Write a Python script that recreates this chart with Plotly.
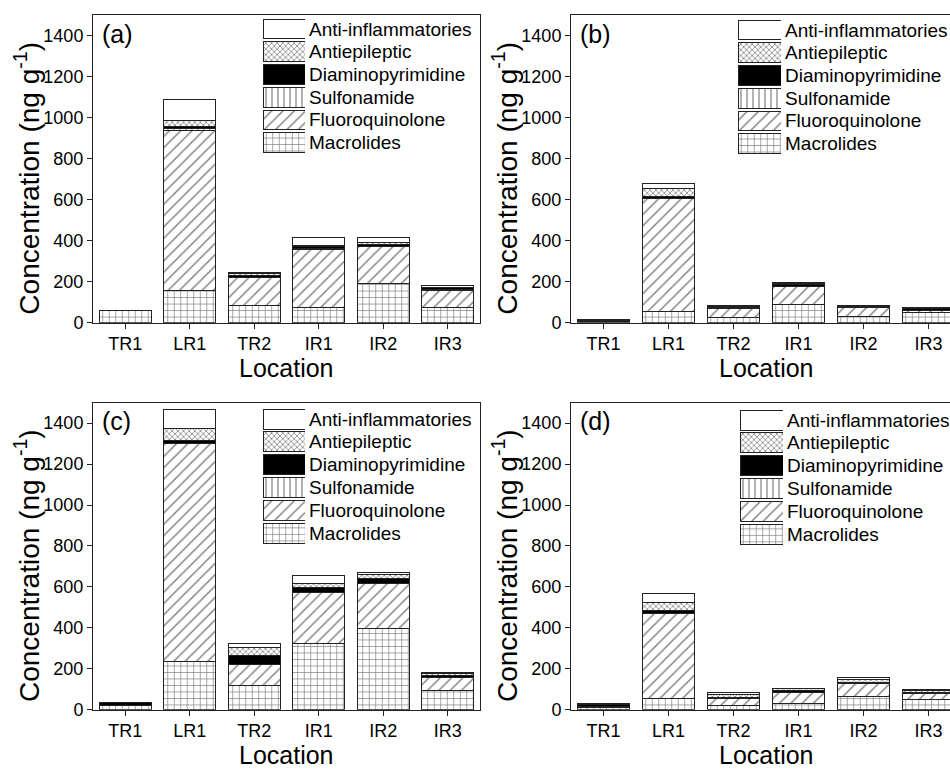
import plotly.graph_objects as go

W, H = 950, 770

locations = ["TR1", "LR1", "TR2", "IR1", "IR2", "IR3"]
classes = ["Macrolides", "Fluoroquinolone", "Sulfonamide",
           "Diaminopyrimidine", "Antiepileptic", "Anti-inflammatories"]
y_ticks = [0, 200, 400, 600, 800, 1000, 1200, 1400]

# Panel (a)
mac_a = [62, 155, 83, 72, 189, 72]
flu_a = [0, 781, 136, 286, 182, 85]
sul_a = [0, 8, 3, 2, 0, 3]
dia_a = [0, 10, 6, 11, 9, 10]
epi_a = [0, 30, 10, 3, 11, 4]
inf_a = [0, 105, 5, 42, 22, 6]

# Panel (b)
mac_b = [6, 56, 24, 88, 32, 50]
flu_b = [3, 547, 45, 88, 40, 11]
sul_b = [0, 0, 0, 2, 0, 0]
dia_b = [2, 10, 6, 10, 6, 6]
epi_b = [3, 40, 5, 5, 5, 3]
inf_b = [1, 24, 3, 4, 3, 2]

# Panel (c)
mac_c = [22, 233, 116, 321, 399, 92]
flu_c = [0, 1069, 105, 252, 218, 65]
sul_c = [0, 0, 0, 0, 0, 0]
dia_c = [11, 13, 44, 23, 24, 8]
epi_c = [2, 58, 40, 21, 20, 12]
inf_c = [0, 92, 16, 37, 11, 3]

# Panel (d)
mac_d = [12, 55, 19, 31, 63, 52]
flu_d = [2, 417, 36, 53, 65, 29]
sul_d = [0, 0, 0, 0, 0, 0]
dia_d = [10, 13, 5, 10, 3, 4]
epi_d = [5, 40, 13, 7, 17, 11]
inf_d = [2, 44, 11, 2, 8, 4]

panel_labels = ["(a)", "(b)", "(c)", "(d)"]
panels = [
    [mac_a, flu_a, sul_a, dia_a, epi_a, inf_a],
    [mac_b, flu_b, sul_b, dia_b, epi_b, inf_b],
    [mac_c, flu_c, sul_c, dia_c, epi_c, inf_c],
    [mac_d, flu_d, sul_d, dia_d, epi_d, inf_d],
]

FONT = "Arial, Liberation Sans, sans-serif"
LINE = "#222222"

styles = {
    "Macrolides": dict(color="white", pattern=dict(shape="+", size=6.5, solidity=0.2, fgcolor="black", bgcolor="white")),
    "Fluoroquinolone": dict(color="white", pattern=dict(shape="/", size=8, solidity=0.18, fgcolor="black", bgcolor="white")),
    "Sulfonamide": dict(color="white", pattern=dict(shape="|", size=6, solidity=0.2, fgcolor="black", bgcolor="white")),
    "Diaminopyrimidine": dict(color="black", pattern=dict(shape="")),
    "Antiepileptic": dict(color="white", pattern=dict(shape="x", size=4, solidity=0.35, fgcolor="black", bgcolor="white")),
    "Anti-inflammatories": dict(color="white", pattern=dict(shape="")),
}

# pixel geometry of panels: (left, right, top, bottom)
geo = [(93, 480, 15, 327), (571, 950, 15, 327), (93, 480, 408, 719), (571, 950, 408, 719)]
# legend swatch geometry: (left, right, top, bottom)
leg_geo = [(263, 305, 18, 156), (738, 781, 19, 157), (263, 305, 413, 552), (740, 783, 414, 553)]

def px_x(v):
    return v / W

def px_y(v):
    return 1 - v / H

fig = go.Figure()
layout = dict(
    width=W, height=H, margin=dict(l=0, r=0, t=0, b=0),
    paper_bgcolor="white", plot_bgcolor="white",
    barmode="stack", showlegend=False,
    font=dict(family=FONT, color="black", size=18),
)
annotations = []

for p, data in enumerate(panels):
    n = p + 1
    xa = "x" if n == 1 else f"x{n}"
    ya = "y" if n == 1 else f"y{n}"
    L, R, T, B = geo[p]
    cat_px = 64.5 if p in (0, 2) else 65.0
    xmax = -0.5 + (R - L) / cat_px
    for cls, vals in zip(classes, data):
        st = styles[cls]
        fig.add_trace(go.Bar(
            x=list(range(len(locations))), y=vals, name=cls, xaxis=xa, yaxis=ya,
            width=0.8,
            marker=dict(color=st["color"], pattern=st["pattern"], line=dict(color=LINE, width=1)),
        ))
    full = p in (0, 2)
    layout[f"xaxis{'' if n == 1 else n}"] = dict(
        domain=[px_x(L), px_x(R)], anchor=ya, range=[-0.5, xmax],
        tickvals=list(range(len(locations))), ticktext=locations,
        ticks="outside", ticklen=5, tickcolor=LINE, showline=True, linecolor=LINE, linewidth=1,
        mirror=True, showgrid=False, zeroline=False, tickfont=dict(size=18), fixedrange=True,
    )
    layout[f"yaxis{'' if n == 1 else n}"] = dict(
        domain=[px_y(B), px_y(T)], anchor=xa, range=[0, 1500],
        tickvals=y_ticks, ticks="outside", ticklen=5, tickcolor=LINE,
        showline=True, linecolor=LINE, linewidth=1, mirror=full,
        showgrid=False, zeroline=False, tickfont=dict(size=18), fixedrange=True,
    )
    annotations.append(dict(text=panel_labels[p], xref="paper", yref="paper",
                            x=px_x(L + 7), y=px_y(T + 19), xanchor="left", yanchor="middle",
                            showarrow=False, font=dict(size=25)))
    annotations.append(dict(text="Location", xref=xa, yref="paper", x=2.5,
                            y=px_y(B + 46), xanchor="center", yanchor="middle",
                            showarrow=False, font=dict(size=25)))
    annotations.append(dict(text="Concentration (ng g<sup>-1</sup>)", xref="paper", yref="paper",
                            x=px_x(L - 66), y=px_y((T + B) / 2 + 10), xanchor="center", yanchor="middle",
                            textangle=-90, showarrow=False, font=dict(size=28)))

    # legend drawn as mini axes with patterned swatches
    m = n + 4
    lxa, lya = f"x{m}", f"y{m}"
    lL, lR, lT, lB = leg_geo[p]
    for slot, cls in enumerate(classes):
        st = styles[cls]
        fig.add_trace(go.Bar(
            x=[0], y=[0.87], base=[slot + 0.065], name=cls, xaxis=lxa, yaxis=lya, width=1,
            marker=dict(color=st["color"], pattern=st["pattern"], line=dict(color=LINE, width=1)),
            hoverinfo="skip",
        ))
        annotations.append(dict(text=cls, xref=lxa, yref=lya, x=0.5, y=slot + 0.5,
                                xanchor="left", yanchor="middle", xshift=2,
                                showarrow=False, font=dict(size=19)))
    layout[f"xaxis{m}"] = dict(domain=[px_x(lL), px_x(lR)], anchor=lya, range=[-0.5, 0.5],
                               visible=False, fixedrange=True)
    layout[f"yaxis{m}"] = dict(domain=[px_y(lB), px_y(lT)], anchor=lxa, range=[0, 6],
                               visible=False, fixedrange=True)

layout["annotations"] = annotations
fig.update_layout(**layout)
fig.write_html("out.html")
